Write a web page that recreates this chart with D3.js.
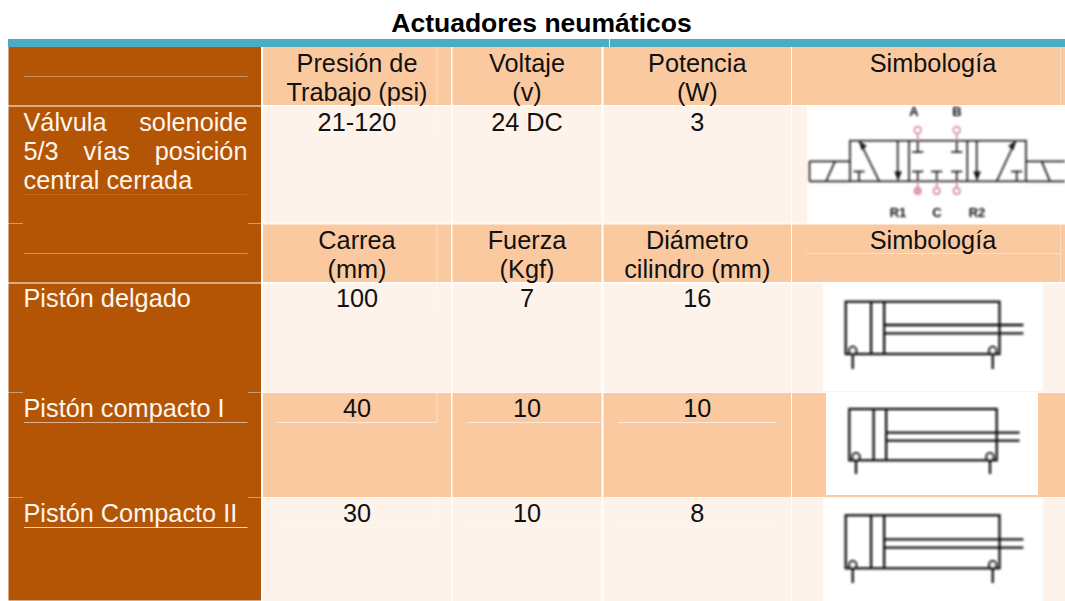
<!DOCTYPE html>
<html>
<head>
<meta charset="utf-8">
<title>Actuadores neumáticos</title>
<script src="https://cdn.jsdelivr.net/npm/d3@7/dist/d3.min.js"></script>
<style>
  html, body { margin: 0; padding: 0; background: #fff; }
  svg { display: block; }
  text { font-family: "Liberation Sans", Arial, sans-serif; }
</style>
</head>
<body>
<div id="chart"></div>
<script>
// table content
var title = 'Actuadores neumáticos';
var columns = ['label', 'a', 'b', 'c', 'symbol'];
var rowKeys = ['head1', 'valve', 'head2', 'thin', 'compact1', 'compact2'];
var head1 = [['Presión de', 'Trabajo (psi)'], ['Voltaje', '(v)'], ['Potencia', '(W)'], ['Simbología']];
var head2 = [['Carrea', '(mm)'], ['Fuerza', '(Kgf)'], ['Diámetro', 'cilindro (mm)'], ['Simbología']];
var valveLabel = ['Válvula solenoide', '5/3 vías posición', 'central cerrada'];
var valveValues = ['21-120', '24 DC', '3'];
var thinLabel = 'Pistón delgado';
var thinValues = ['100', '7', '16'];
var compact1Label = 'Pistón compacto I';
var compact1Values = ['40', '10', '10'];
var compact2Label = 'Pistón Compacto II';
var compact2Values = ['30', '10', '8'];
var valveTop = ['A', 'B'];
var valveBottom = ['R1', 'C', 'R2'];

var width = 1065, height = 601;
var colors = { brown: '#B45506', peach: '#FBC9A0', pale: '#FEF3EA', teal: '#4BACC6' };

// layout: edges of the table cells
var colLeft = d3.scaleOrdinal().domain(columns).range([8.5, 263, 452.5, 603.5, 792]);
var colRight = d3.scaleOrdinal().domain(columns).range([261, 451, 601.5, 791, 1065]);
var rowTop = d3.scaleOrdinal().domain(rowKeys).range([47, 106.5, 224.5, 283.5, 393, 497.5]);
var rowBottom = d3.scaleOrdinal().domain(rowKeys).range([105, 223.5, 282, 392.5, 497, 601]);
var rowFill = d3.scaleOrdinal().domain(rowKeys)
  .range([colors.peach, colors.pale, colors.peach, colors.pale, colors.peach, colors.pale]);
var colCenter = function (k) { return k === 'symbol' ? 933 : (colLeft(k) + colRight(k)) / 2; };
var lineH = 29.3;
var fontSize = 25.3;

var svg = d3.select('#chart').append('svg').attr('width', width).attr('height', height);

var defs = svg.append('defs');
defs.append('filter').attr('id', 'soft').append('feGaussianBlur').attr('stdDeviation', 0.8);

svg.append('text')
  .attr('x', 541.5).attr('y', 32)
  .attr('text-anchor', 'middle')
  .attr('font-weight', 'bold')
  .attr('font-size', 26.5)
  .attr('fill', '#000')
  .text(title);

svg.append('rect').attr('x', 8).attr('y', 39).attr('width', width - 8).attr('height', 8).attr('fill', colors.teal);
svg.append('rect').attr('x', 609).attr('y', 39).attr('width', 1).attr('height', 8).attr('fill', '#fff');

// left brown column, white rules only below the two header rows
svg.append('rect')
  .attr('x', colLeft('label')).attr('y', 47)
  .attr('width', colRight('label') - colLeft('label')).attr('height', 553.5)
  .attr('fill', colors.brown);
[106, 283].forEach(function (y) {
  svg.append('rect').attr('x', 8).attr('y', y - 0.5).attr('width', 253).attr('height', 1).attr('fill', '#fff');
});

// body cells
var cellCols = columns.slice(1);
rowKeys.forEach(function (r) {
  svg.selectAll('rect.cell-' + r).data(cellCols).enter().append('rect')
    .attr('class', 'cell-' + r)
    .attr('x', function (c) { return colLeft(c); })
    .attr('y', rowTop(r))
    .attr('width', function (c) { return colRight(c) - colLeft(c); })
    .attr('height', rowBottom(r) - rowTop(r))
    .attr('fill', rowFill(r));
});

// faint paragraph rules left over inside the cells
var rule = function (x1, y1, x2, y2, color, op) {
  svg.append('line')
    .attr('x1', x1).attr('y1', y1).attr('x2', x2).attr('y2', y2)
    .attr('stroke', color).attr('stroke-opacity', op).attr('stroke-width', 1);
};
[[76.5, 0.35], [253.5, 0.35], [422.5, 0.55], [527.5, 0.75]].forEach(function (d) {
  rule(24, d[0], 247.5, d[0], '#fff', d[1]);
});
rule(24, 194.5, 247.5, 194.5, '#fff', 0.12);
[223.5, 392.5, 497.5].forEach(function (y) {
  rule(8, y, 23, y, '#fff', 0.4);
  rule(248, y, 261, y, '#fff', 0.4);
});
[[47, 105], [107, 133], [225, 282], [284, 312], [393, 422], [498, 527]].forEach(function (d) {
  rule(437, d[0], 437, d[1], '#fff', 0.45);
});
rule(277, 422.5, 437, 422.5, '#fff', 0.6);
rule(277, 527.5, 437, 527.5, '#fff', 0.3);
rule(467, 422.5, 601, 422.5, '#fff', 0.6);
rule(467, 527.5, 601, 527.5, '#fff', 0.3);
rule(618, 422.5, 777, 422.5, '#fff', 0.6);
rule(618, 527.5, 777, 527.5, '#fff', 0.3);
rule(806, 253.5, 1060, 253.5, '#fff', 0.4);
rule(1060.5, 47, 1060.5, 105, '#fff', 0.4);
rule(1060.5, 225, 1060.5, 282, '#fff', 0.4);

// centred cell text
var drawCentered = function (lines, col, baseline) {
  svg.selectAll(null).data(lines).enter().append('text')
    .attr('x', colCenter(col))
    .attr('y', function (d, i) { return baseline + i * lineH; })
    .attr('text-anchor', 'middle')
    .attr('font-size', fontSize)
    .attr('fill', '#111')
    .text(function (d) { return d; });
};
cellCols.forEach(function (c, i) {
  drawCentered(head1[i], c, 71.7);
  drawCentered(head2[i], c, 248.7);
});
cellCols.slice(0, 3).forEach(function (c, i) {
  drawCentered([valveValues[i]], c, 130.7);
  drawCentered([thinValues[i]], c, 307.2);
  drawCentered([compact1Values[i]], c, 417);
  drawCentered([compact2Values[i]], c, 522.2);
});

// row labels, the first two valve lines are justified
var labelX = 23.5, labelRight = 247.5;
var drawLabel = function (txt, baseline, justify) {
  var t = svg.append('text')
    .attr('x', labelX).attr('y', baseline)
    .attr('font-size', fontSize)
    .attr('fill', '#FFF6EE')
    .text(txt);
  if (justify) {
    var w = t.node().getComputedTextLength();
    var gaps = txt.split(' ').length - 1;
    t.attr('word-spacing', (labelRight - labelX - w) / gaps);
  }
};
valveLabel.forEach(function (d, i) { drawLabel(d, 130.7 + i * lineH, i < 2); });
drawLabel(thinLabel, 307.2);
drawLabel(compact1Label, 417);
drawLabel(compact2Label, 522.2);

// piston symbol, in its own unit box so every row shares the shape
var bodyX = [0, 0.165, 0.25, 1];
var rodEnd = 1.155;
var drawPiston = function (g, box) {
  g.append('rect')
    .attr('x', box.bg[0]).attr('y', box.bg[1])
    .attr('width', box.bg[2] - box.bg[0]).attr('height', box.bg[3] - box.bg[1])
    .attr('fill', '#fff');
  var x = d3.scaleLinear().domain([0, 1]).range(box.x);
  var y = d3.scaleLinear().domain([0, 1]).range(box.y);
  var art = g.append('g')
    .attr('filter', 'url(#soft)')
    .attr('stroke', '#111').attr('fill', 'none').attr('stroke-width', 2.3);
  art.append('rect')
    .attr('x', x(0)).attr('y', y(0))
    .attr('width', x(1) - x(0)).attr('height', y(1) - y(0));
  art.selectAll(null).data(bodyX.slice(1, 3)).enter().append('line')
    .attr('x1', function (d) { return x(d); }).attr('x2', function (d) { return x(d); })
    .attr('y1', y(0)).attr('y2', y(1));
  art.selectAll(null).data(box.rod).enter().append('line')
    .attr('x1', x(0.25)).attr('x2', x(rodEnd))
    .attr('y1', function (d) { return d; }).attr('y2', function (d) { return d; });
  art.selectAll(null).data(box.ports).enter().append('line')
    .attr('x1', function (d) { return d; }).attr('x2', function (d) { return d; })
    .attr('y1', y(1)).attr('y2', box.stem);
  art.selectAll(null).data(box.ports).enter().append('circle')
    .attr('cx', function (d) { return d; }).attr('cy', y(1) - 3.5).attr('r', 3.6)
    .attr('fill', '#fff');
};
var symbols = svg.append('g');
drawPiston(symbols.append('g'), {
  bg: [823, 283.5, 1043, 391], x: [845.7, 999.5], y: [301.7, 354],
  rod: [325, 333.3], ports: [852.7, 992.7], stem: 369
});
drawPiston(symbols.append('g'), {
  bg: [826, 392, 1038, 495], x: [849.3, 996.7], y: [409, 460.3],
  rod: [432.7, 440.7], ports: [856, 990], stem: 474
});
drawPiston(symbols.append('g'), {
  bg: [823, 497.5, 1043, 601], x: [845.7, 999.5], y: [515.3, 568.3],
  rod: [539.3, 547.7], ports: [852.7, 992.7], stem: 583
});

// valve symbol
var valve = symbols.append('g');
valve.append('rect').attr('x', 807).attr('y', 106.5).attr('width', 258).attr('height', 117).attr('fill', '#fff');
var art = valve.append('g')
  .attr('filter', 'url(#soft)')
  .attr('stroke', '#222').attr('fill', 'none').attr('stroke-width', 1.7);
var seg = function (x1, y1, x2, y2, stroke) {
  return art.append('line')
    .attr('x1', x1).attr('y1', y1).attr('x2', x2).attr('y2', y2)
    .attr('stroke', stroke || '#222');
};
art.append('rect').attr('x', 850).attr('y', 140.7).attr('width', 176).attr('height', 40.6);
seg(809.5, 161.3, 850, 161.3); seg(809.5, 161.3, 809.5, 181.3); seg(809.5, 181.3, 850, 181.3);
seg(1026, 161.3, 1065, 161.3); seg(1026, 181.3, 1065, 181.3);
seg(826, 181.3, 835, 161.3); seg(1041.7, 161.3, 1050, 181.3);
seg(909, 140.7, 909, 181.3); seg(967.3, 140.7, 967.3, 181.3);
seg(860, 142, 879.3, 181.3); seg(1015, 142, 996.7, 181.3);
seg(897.7, 140.7, 897.7, 178); seg(976.7, 140.7, 976.7, 178);
var head = function (pts) {
  art.append('path').attr('d', d3.line()(pts)).attr('fill', '#111');
};
head([[894.7, 172], [900.7, 172], [897.7, 180]]);
head([[973.7, 172], [979.7, 172], [976.7, 180]]);
head([[859, 141.5], [865.5, 146], [861.5, 149.5]]);
head([[1016, 141.5], [1009.5, 146], [1013.5, 149.5]]);
[859, 1016.7, 917.7, 936.7, 956.7].forEach(function (x) {
  seg(x - 5.5, 171.5, x + 5.5, 171.5);
  seg(x, 171.5, x, 181.3);
});
[917.7, 956.7].forEach(function (x) {
  seg(x, 140.7, x, 152);
  seg(x - 5.5, 152, x + 5.5, 152);
  seg(x, 133, x, 140.7, '#c88a9a');
  art.append('circle').attr('cx', x).attr('cy', 130).attr('r', 3.4).attr('stroke', '#d98ba0');
});
[917.7, 936.7, 956.7].forEach(function (x) {
  seg(x, 181.3, x, 188, '#c88a9a');
  art.append('circle').attr('cx', x).attr('cy', 191).attr('r', 3.2)
    .attr('stroke', '#d98ba0').attr('fill', x === 917.7 ? '#e3a9b8' : 'none');
});
var valveText = function (labels, xs, y) {
  valve.selectAll(null).data(labels).enter().append('text')
    .attr('x', function (d, i) { return xs[i]; })
    .attr('y', y)
    .attr('text-anchor', 'middle')
    .attr('font-size', 13)
    .attr('font-weight', 'bold')
    .attr('fill', '#111')
    .attr('filter', 'url(#soft)')
    .text(function (d) { return d; });
};
valveText(valveTop, [914, 957], 116);
valveText(valveBottom, [898, 937, 977], 217);
</script>
</body>
</html>
